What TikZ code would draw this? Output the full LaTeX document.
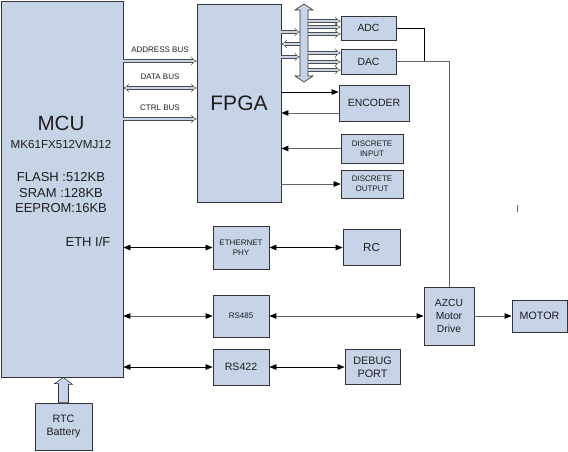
\documentclass[tikz,border=0pt]{standalone}
\usepackage{fontspec}
\setmainfont{Liberation Sans}
\usetikzlibrary{arrows.meta,calc}

\definecolor{boxfill}{RGB}{199,211,230}
\definecolor{boxline}{RGB}{50,50,55}
\definecolor{linegray}{RGB}{100,100,100}
\definecolor{txt}{RGB}{30,30,30}

\tikzset{
    blk/.style={draw=boxline, fill=boxfill, line width=0.8pt, inner sep=1pt,
        align=center, text=txt},
    link/.style={draw=black, line width=0.6pt},
    glink/.style={draw=linegray, line width=0.9pt},
    busR/.style={draw=black!70, double=boxfill, double distance=2.4pt,
        line width=0.55pt, -{Implies[length=3pt]}},
    busL/.style={busR, {Implies[length=3pt]}-},
    busB/.style={busR, {Implies[length=3pt]}-{Implies[length=3pt]}},
    lbl/.style={text=txt, inner sep=0pt}
}

\begin{document}
\begin{tikzpicture}[x=1pt, y=-1pt, >={Triangle[length=7pt,width=5.5pt,color=black]}]
    \useasboundingbox (0,0) rectangle (568,451);

    % Boxes
    \node[blk, minimum width=122pt, minimum height=376pt] (mcu) at (62,189) {};
    \node[blk, minimum width=84pt, minimum height=198pt, font=\fontsize{21}{24}\selectfont] (fpga) at (239,103) {FPGA};
    \node[blk, minimum width=55pt, minimum height=24pt, font=\fontsize{10.4}{12}\selectfont] (adc) at (368.5,28) {ADC};
    \node[blk, minimum width=55pt, minimum height=25pt, font=\fontsize{10.4}{12}\selectfont] (dac) at (368.5,61.5) {DAC};
    \node[blk, minimum width=70pt, minimum height=36pt, font=\fontsize{10.5}{12}\selectfont] (enc) at (374,103) {ENCODER};
    \node[blk, minimum width=62pt, minimum height=29pt, font=\fontsize{8}{10}\selectfont] (din) at (372,148.5) {DISCRETE\\INPUT};
    \node[blk, minimum width=62pt, minimum height=28pt, font=\fontsize{8}{10}\selectfont] (dout) at (372,184) {DISCRETE\\OUTPUT};
    \node[blk, minimum width=56pt, minimum height=43pt, font=\fontsize{8}{10}\selectfont] (ephy) at (241,247.5) {ETHERNET\\PHY};
    \node[blk, minimum width=57pt, minimum height=36pt, font=\fontsize{11.5}{13}\selectfont] (rc) at (371.5,247.5) {RC};
    \node[blk, minimum width=56pt, minimum height=42pt, font=\fontsize{8}{10}\selectfont] (rs485) at (241,316) {RS485};
    \node[blk, minimum width=56pt, minimum height=36pt, font=\fontsize{10.6}{12}\selectfont] (rs422) at (241,367) {RS422};
    \node[blk, minimum width=55pt, minimum height=35pt, font=\fontsize{10.8}{12.7}\selectfont] (debug) at (372.5,367) {DEBUG\\PORT};
    \node[blk, minimum width=50pt, minimum height=58pt, font=\fontsize{10.3}{13}\selectfont] (azcu) at (449,316) {AZCU\\Motor\\Drive};
    \node[blk, minimum width=55pt, minimum height=32pt, font=\fontsize{10.7}{12}\selectfont] (motor) at (539.5,316) {MOTOR};
    \node[blk, minimum width=57pt, minimum height=47pt, font=\fontsize{10.7}{12.7}\selectfont] (rtc) at (63.5,426.5) {RTC\\Battery};

    % MCU texts
    \node[lbl, font=\fontsize{20.6}{24}\selectfont] (mcuname) at (61,123) {MCU};
    \node[lbl, font=\fontsize{11.6}{14}\selectfont] (mcupart) at (61,145) {MK61FX512VMJ12};
    \node[lbl, font=\fontsize{13}{15}\selectfont] (flash) at (61,177) {FLASH :512KB};
    \node[lbl, font=\fontsize{13}{15}\selectfont] (sram) at (61,193) {SRAM :128KB};
    \node[lbl, font=\fontsize{13}{15}\selectfont] (eeprom) at (61,208) {EEPROM:16KB};
    \node[lbl, font=\fontsize{13}{15}\selectfont] (ethif) at (88,242) {ETH I/F};

    % MCU to FPGA buses
    \foreach \y/\s/\t in {61/busR/ADDRESS BUS, 88/busB/DATA BUS, 119/busR/CTRL BUS} {
        \node[lbl, font=\fontsize{8}{10}\selectfont] at (160,\y-11) {\t};
        \draw[\s] (mcu.east |- 0,\y) -- (fpga.west |- 0,\y);
    }

    % Vertical bus
    \draw[draw=boxline, fill=boxfill, line width=0.6pt]
        (304,4) -- (313,10) -- (308,10) -- (308,76) -- (313,76) -- (304,82)
        -- (295,76) -- (300,76) -- (300,10) -- (295,10) -- cycle;
    \coordinate (vbusL) at (300,43);
    \coordinate (vbusR) at (308,43);
    \foreach \y/\s in {32/busR, 44/busL, 57/busR} {
        \draw[\s] (fpga.east |- 0,\y) -- (vbusL |- 0,\y);
    }
    \foreach \y in {21,27,34} {
        \draw[busR] (vbusR |- 0,\y) -- (adc.west |- 0,\y);
    }
    \foreach \y in {53,62,70} {
        \draw[busR] (vbusR |- 0,\y) -- (dac.west |- 0,\y);
    }

    % ADC / DAC to motor drive
    \coordinate (join) at (424,61.5);
    \draw[link] (adc.east) -| (join);
    \draw[glink] (dac.east) -| (azcu.north);

    % FPGA signals
    \draw[link,->] (fpga.east |- 0,92) -- (enc.west |- 0,92);
    \draw[glink,->] (enc.west |- 0,113) -- (fpga.east |- 0,113);
    \draw[glink,->] (din.west) -- (fpga.east |- din.west);
    \draw[glink,->] (fpga.east |- dout.west) -- (dout.west);

    % MCU interfaces
    \draw[link,<->] (mcu.east |- ephy.west) -- (ephy.west);
    \draw[link,<->] (ephy.east) -- (rc.west);
    \draw[glink,<->] (mcu.east |- rs485.west) -- (rs485.west);
    \draw[glink,<->] (rs485.east) -- (azcu.west);
    \draw[link,<->] (mcu.east |- rs422.west) -- (rs422.west);
    \draw[link,<->] (rs422.east) -- (debug.west);
    \draw[glink,->] (azcu.east) -- (motor.west);

    % RTC battery feed
    \draw[draw=boxline, fill=boxfill, line width=0.6pt]
        (mcu.south -| rtc.north) -- ++(9,7) -- ++(-4,0) |- (rtc.north) -- ++(-5,0)
        -- ++(0,-19) -- ++(-4,0) -- cycle;

    % Stray mark
    \draw[linegray, line width=0.6pt] (517,205) -- (517,212);
\end{tikzpicture}
\end{document}
